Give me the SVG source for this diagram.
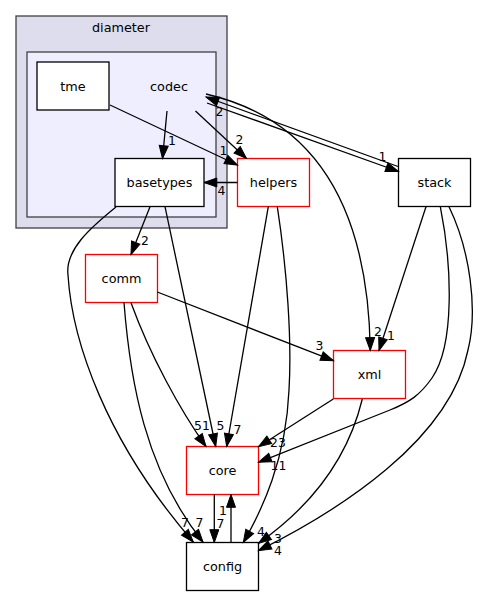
<svg xmlns="http://www.w3.org/2000/svg" width="480" height="596" viewBox="0 0 480 596">
<defs>
<marker id="ah" markerUnits="userSpaceOnUse" markerWidth="14" markerHeight="10" refX="12.8" refY="4.5" orient="auto" overflow="visible">
<path d="M0,0 L12.8,4.5 L0,9 z" fill="#000" stroke="#000" stroke-width="1"/>
</marker>
</defs>
<style>
text{font-family:"DejaVu Sans","Liberation Sans",sans-serif;font-size:12.8px;fill:#000}
.n text,.c text{text-anchor:middle}
.n rect{fill:#fff;stroke:#000;stroke-width:1.3}
.n.r rect{stroke:#ff0000}
.e path{fill:none;stroke:#000;stroke-width:1.3;marker-end:url(#ah)}
.l text{text-anchor:middle;font-size:12.4px}
</style>
<g id="cluster-diameter" class="c">
<rect x="16" y="16" width="211" height="212" fill="#ddddee" stroke="#404040" stroke-width="1.3"/>
<text x="121" y="31.5">diameter</text>
</g>
<g id="cluster-codec" class="c">
<rect x="27" y="52" width="189" height="165" fill="#eeeeff" stroke="#404040" stroke-width="1.3"/>
<text x="169" y="90.5">codec</text>
</g>
<g id="node-tme" class="n"><rect x="37" y="62" width="72" height="48"/><text x="73" y="90.5">tme</text></g>
<g id="node-basetypes" class="n"><rect x="115" y="158.5" width="89" height="48"/><text x="159.5" y="186.5">basetypes</text></g>
<g id="node-helpers" class="n r"><rect x="237.5" y="158.5" width="72" height="48"/><text x="273.5" y="186.5">helpers</text></g>
<g id="node-stack" class="n"><rect x="398.5" y="158.5" width="72" height="48"/><text x="434.5" y="186.5">stack</text></g>
<g id="node-comm" class="n r"><rect x="85.5" y="254.5" width="72" height="48"/><text x="121.5" y="282.5">comm</text></g>
<g id="node-xml" class="n r"><rect x="333.5" y="350.5" width="72" height="48"/><text x="369.5" y="378.5">xml</text></g>
<g id="node-core" class="n r"><rect x="186.5" y="446.5" width="72" height="48"/><text x="222.5" y="474.5">core</text></g>
<g id="node-config" class="n"><rect x="186.5" y="542.5" width="72" height="48"/><text x="222.5" y="570.5">config</text></g>
<g id="edges" class="e">
<path d="M167,111 L162.5,158.5"/>
<path d="M195.5,111 L246.5,158.5"/>
<path d="M110,105 L237.5,165"/>
<path d="M237.5,182.5 L204,182.5"/>
<path d="M398,166.5 L206,97"/>
<path d="M207,103 L398.5,171.5"/>
<path d="M206,94 C310,118 368,200 370.3,350.5"/>
<path d="M426,206.7 L379,350.5"/>
<path d="M440.3,206.7 C452,265 455,345 432,378 C420,395 410,402 390,410 L258.5,462.3"/>
<path d="M449,206.7 C470,250 478,310 468,350 C450,440 340,510 258.5,550.7"/>
<path d="M277.3,206.7 C287,270 292,340 289,390 C286,460 262,510 243.3,542.5"/>
<path d="M268.3,206.7 L226.7,446.5"/>
<path d="M165,206.7 L215.7,446.5"/>
<path d="M150,206.7 L131,254.5"/>
<path d="M116,207 C90,228 65,250 68,275 C72,340 105,440 193.3,542"/>
<path d="M124,302.5 C130,380 145,470 203,542"/>
<path d="M131,302.7 C150,355 180,410 206,446.5"/>
<path d="M157.3,292 L333.5,360.7"/>
<path d="M362.3,399 C350,450 320,500 258.5,543.3"/>
<path d="M333.3,399 L258.5,446.7"/>
<path d="M214.3,494.5 L214.3,542.5"/>
<path d="M231,542.5 L231,494.5"/>
</g>
<g id="edge-labels" class="l">
<text x="172" y="144.5">1</text>
<text x="239.5" y="143.5">2</text>
<text x="223.5" y="154.5">1</text>
<text x="221.5" y="194.5">4</text>
<text x="219.5" y="115.5">2</text>
<text x="382.5" y="160.5">1</text>
<text x="378" y="336">2</text>
<text x="391" y="339.5">1</text>
<text x="278.5" y="469.5">11</text>
<text x="278" y="555">4</text>
<text x="261" y="536">4</text>
<text x="237.5" y="433.5">7</text>
<text x="220.5" y="430">5</text>
<text x="145" y="244.5">2</text>
<text x="185" y="527">7</text>
<text x="199.5" y="527">7</text>
<text x="202" y="430">51</text>
<text x="319.5" y="350">3</text>
<text x="278" y="543">3</text>
<text x="278" y="447">23</text>
<text x="220.5" y="528">7</text>
<text x="223" y="515">1</text>
</g>
</svg>
